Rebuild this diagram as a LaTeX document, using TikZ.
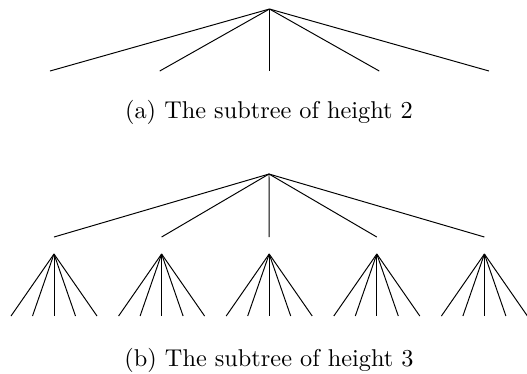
\documentclass[tikz,border=0pt]{standalone}
\begin{document}
\begin{tikzpicture}[x=.4115pt,y=-.4115pt]
 \useasboundingbox (0,0) rectangle (527,373);
 % subtree of height 2
 \coordinate (ra) at (269.5,9);
 \foreach \i in {0,...,4}{
  \coordinate (a\i) at ({50+109.75*\i},71);
  \draw (ra)--(a\i);
 }
 \node (capa) at (269,112) {(a) The subtree of height 2};
 % subtree of height 3
 \coordinate (rb) at (269,174);
 \foreach \i in {0,...,4}{
  \coordinate (b\i) at ({54+107.6*\i},237);
  \coordinate (s\i) at ({54+107.6*\i},254);
  \draw (rb)--(b\i);
  \foreach \j in {0,...,4}{
   \coordinate (c\i\j) at ({54+107.6*\i+21.5*(\j-2)},316);
   \draw (s\i)--(c\i\j);
  }
 }
 \node (capb) at (269,360) {(b) The subtree of height 3};
\end{tikzpicture}
\end{document}
